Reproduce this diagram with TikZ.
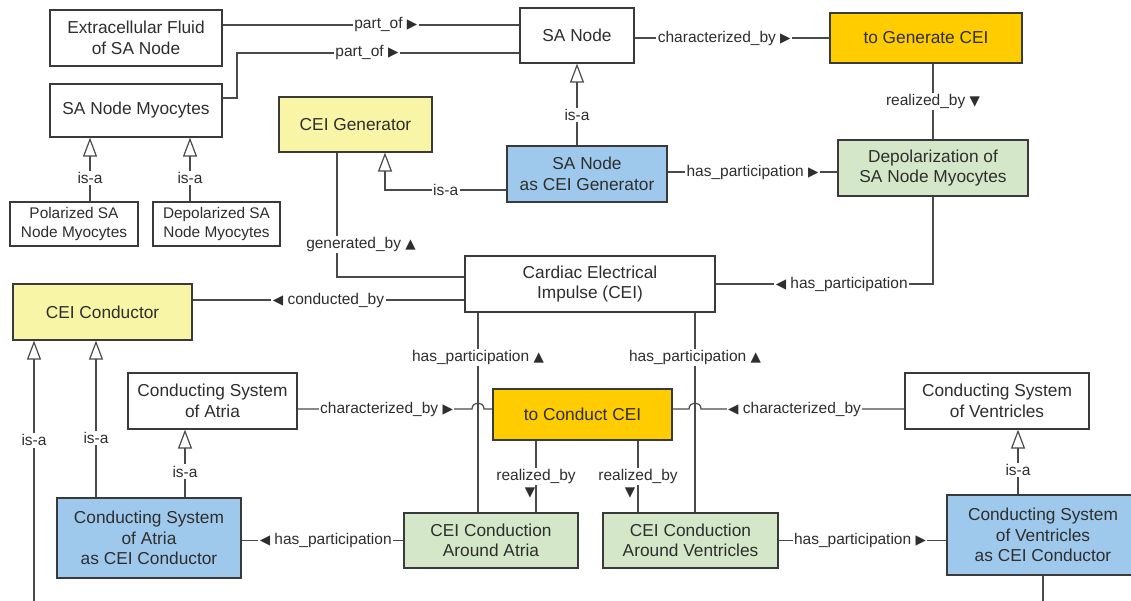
\documentclass[tikz,border=0pt]{standalone}
\usepackage{fontspec}
\setmainfont{Liberation Sans}
\newfontfamily\symf{DejaVu Sans}
\usetikzlibrary{arrows.meta}
\definecolor{bxline}{HTML}{3A3A3A}
\definecolor{cnline}{HTML}{4A4A4A}
\definecolor{txt}{HTML}{2E2E2E}
\definecolor{cyel}{HTML}{F8F5A6}
\definecolor{corg}{HTML}{FFCC00}
\definecolor{cblu}{HTML}{9EC9EC}
\definecolor{cgrn}{HTML}{D4E8C9}
\newcommand\myR{{\symf\fontsize{13.5}{13.5}\selectfont ▶}}
\newcommand\myL{{\symf\fontsize{13.5}{13.5}\selectfont ◀}}
\newcommand\myU{{\symf\fontsize{13.5}{13.5}\selectfont ▲}}
\newcommand\myD{{\symf\fontsize{13.5}{13.5}\selectfont ▼}}
\tikzset{
  box/.style={draw=bxline, line width=1.2pt, align=center, text=txt, inner sep=0pt,
    font=\fontsize{17.3}{20.5}\selectfont},
  sbox/.style={box, font=\fontsize{15.4}{19}\selectfont},
  conn/.style={draw=cnline, line width=1.2pt},
  isa/.style={conn, -{Triangle[open, length=19pt, width=14pt, line width=1.2pt]}},
  lab/.style={fill=white, text=txt, inner sep=1.5pt, font=\fontsize{15.5}{18}\selectfont},
}
\begin{document}
\begin{tikzpicture}[x=1pt, y=-1pt]
\useasboundingbox (0,0) rectangle (1131,601);
\fill[white] (0,0) rectangle (1131,601);

% nodes
\node[box, minimum width=172pt, minimum height=56pt] (ecf) at (136,38) {Extracellular Fluid\\of SA Node};
\node[box, minimum width=172pt, minimum height=53pt] (myo) at (136,110.5) {SA Node Myocytes};
\node[sbox, minimum width=128pt, minimum height=44pt] (pol) at (74,224) {Polarized SA\\Node Myocytes};
\node[sbox, minimum width=127pt, minimum height=44pt] (depol) at (216.5,224) {Depolarized SA\\Node Myocytes};
\node[box, fill=cyel, minimum width=153pt, minimum height=55pt] (gen) at (355.5,124.5) {CEI Generator};
\node[box, minimum width=114pt, minimum height=55pt] (sa) at (577,35.5) {SA Node};
\node[box, fill=corg, minimum width=192pt, minimum height=50pt] (tgen) at (926,38) {to Generate CEI};
\node[box, fill=cblu, minimum width=160pt, minimum height=56pt] (sagen) at (587,174) {SA Node\\as CEI Generator};
\node[box, fill=cgrn, minimum width=190pt, minimum height=56pt] (dep) at (933,168) {Depolarization of\\SA Node Myocytes};
\node[box, minimum width=250pt, minimum height=56pt] (cei) at (590,284) {Cardiac Electrical\\Impulse (CEI)};
\node[box, fill=cyel, minimum width=179pt, minimum height=56pt] (cond) at (102.5,312) {CEI Conductor};
\node[box, minimum width=169pt, minimum height=56pt] (csa) at (212.5,401) {Conducting System\\of Atria};
\node[box, fill=corg, minimum width=179pt, minimum height=51pt] (tcon) at (582.5,414.5) {to Conduct CEI};
\node[box, minimum width=184pt, minimum height=56pt] (csv) at (997,401) {Conducting System\\of Ventricles};
\node[box, fill=cblu, minimum width=184pt, minimum height=80pt] (csaC) at (149,538) {Conducting System\\of Atria\\as CEI Conductor};
\node[box, fill=cgrn, minimum width=174pt, minimum height=55pt] (ccA) at (491,540.5) {CEI Conduction\\Around Atria};
\node[box, fill=cgrn, minimum width=175pt, minimum height=55pt] (ccV) at (690.5,540.5) {CEI Conduction\\Around Ventricles};
\node[box, fill=cblu, minimum width=192pt, minimum height=80pt] (csvC) at (1043,535) {Conducting System\\of Ventricles\\as CEI Conductor};

% helper coordinates
\coordinate (yA) at (0,25);
\coordinate (yB) at (0,98);
\coordinate (yC) at (0,53);
\coordinate (xk) at (237,0);
\coordinate (yE) at (0,190);
\coordinate (x385) at (385,0);
\coordinate (yD) at (0,172);
\coordinate (x337) at (337,0);
\coordinate (y277) at (0,277);
\coordinate (y300) at (0,300);
\coordinate (x478) at (478,0);
\coordinate (x695) at (695,0);
\coordinate (y409) at (0,409);
\coordinate (hA1) at (472,409);
\coordinate (hA2) at (484,409);
\coordinate (hB1) at (701,409);
\coordinate (hB2) at (689,409);
\coordinate (x536) at (536,0);
\coordinate (x638) at (638,0);
\coordinate (x185) at (185,0);
\coordinate (x96) at (96,0);
\coordinate (x1018) at (1018,0);
\coordinate (botL) at (34,601);
\coordinate (botR) at (1043,601);
\coordinate (x90) at (90,0);
\coordinate (x190) at (190,0);

% connectors
\draw[conn] (ecf.east |- yA) -- node[lab, pos=0.55] {part\_of \myR} (sa.west |- yA);
\draw[conn] (myo.east |- yB) -- (xk |- yB) -- (xk |- yC) -- node[lab, pos=0.46] {part\_of \myR} (sa.west |- yC);
\draw[conn] (sa.east |- tgen.west) -- node[lab, pos=0.46] {characterized\_by \myR} (tgen.west);
\draw[conn] (dep.north |- tgen.south) -- node[lab] {realized\_by \myD} (dep.north);
\draw[isa] (sa.south |- sagen.north) -- node[lab, pos=0.37] {is-a} (sa.south);
\draw[isa] (sagen.west |- yE) -- node[lab] {is-a} (x385 |- yE) -- (x385 |- gen.south);
\draw[conn] (sagen.east |- yD) -- node[lab] {has\_participation \myR} (dep.west |- yD);
\draw[conn] (dep.south) -- (dep.south |- cei.east) -- node[lab, pos=0.42] {\myL{} has\_participation} (cei.east);
\draw[conn] (x337 |- gen.south) -- node[lab, pos=0.74, xshift=24pt] {generated\_by \myU} (x337 |- y277) -- (cei.west |- y277);
\draw[conn] (cei.west |- y300) -- node[lab] {\myL{} conducted\_by} (cond.east |- y300);
\draw[conn] (x478 |- ccA.north) -- node[lab, pos=0.776] {has\_participation \myU} (x478 |- cei.south);
\draw[conn] (x695 |- ccV.north) -- node[lab, pos=0.776] {has\_participation \myU} (x695 |- cei.south);
\draw[conn] (csa.east |- y409) -- node[lab, pos=0.51] {characterized\_by \myR} (hA1)
  .. controls +(0,-8) and +(0,-8) .. (hA2) -- (tcon.west |- y409);
\draw[conn] (csv.west |- y409) -- node[lab, pos=0.54] {\myL{} characterized\_by} (hB1)
  .. controls +(0,-8) and +(0,-8) .. (hB2) -- (tcon.east |- y409);
\draw[conn] (x536 |- tcon.south) -- node[lab, pos=0.5, label={[text=txt, inner sep=0pt, xshift=-6pt, yshift=-1pt]below:\myD}] {realized\_by} (x536 |- ccA.north);
\draw[conn] (x638 |- tcon.south) -- node[lab, pos=0.5, label={[text=txt, inner sep=0pt, xshift=-8pt, yshift=-1pt]below:\myD}] {realized\_by} (x638 |- ccV.north);
\draw[conn] (ccA.west) -- node[lab, pos=0.48] {\myL{} has\_participation} (csaC.east |- ccA.west);
\draw[conn] (ccV.east) -- node[lab, pos=0.485] {has\_participation \myR} (csvC.west |- ccV.east);
\draw[isa] (x185 |- csaC.north) -- node[lab, pos=0.38] {is-a} (x185 |- csa.south);
\draw[isa] (x96 |- csaC.north) -- node[lab, pos=0.38] {is-a} (x96 |- cond.south);
\draw[isa] (botL) -- node[lab, pos=0.617] {is-a} (botL |- cond.south);
\draw[isa] (x1018 |- csvC.north) -- node[lab, pos=0.38] {is-a} (x1018 |- csv.south);
\draw[conn] (csvC.south -| botR) -- (botR);
\draw[isa] (x90 |- pol.north) -- node[lab, pos=0.37] {is-a} (x90 |- myo.south);
\draw[isa] (x190 |- depol.north) -- node[lab, pos=0.37] {is-a} (x190 |- myo.south);
\end{tikzpicture}
\end{document}
